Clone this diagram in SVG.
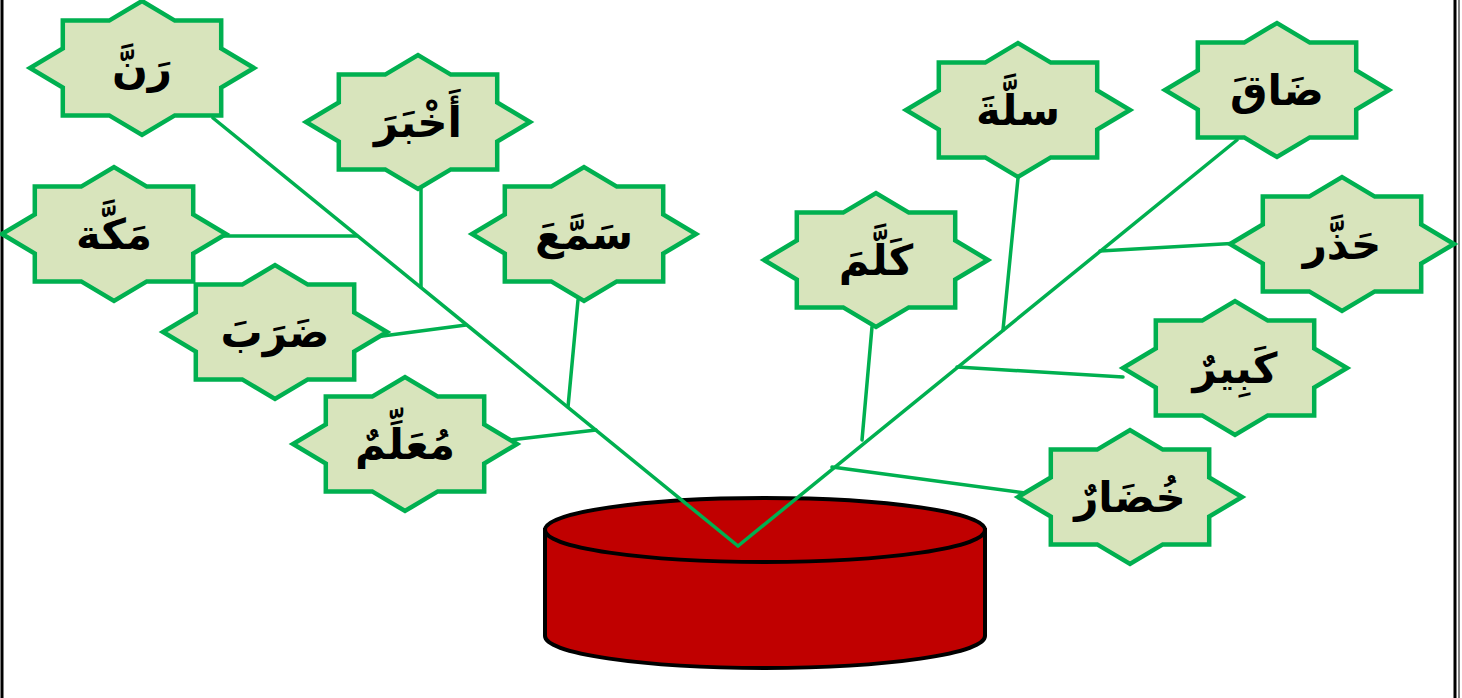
<svg xmlns="http://www.w3.org/2000/svg" width="1462" height="698" viewBox="0 0 1462 698">
<style>
.st{fill:#D8E4BC;stroke:#00B050;stroke-width:4.5;stroke-linejoin:miter}
.lb{font-family:"DejaVu Sans","Noto Sans",sans-serif;font-weight:bold;font-size:42px;fill:#000;text-anchor:middle;direction:rtl}
.cn line{stroke:#00B050;stroke-width:3.5;stroke-linecap:round}
.cyl{fill:#C00000;stroke:#000;stroke-width:4}
</style>
<defs>
<path id="star" d="M112,0 L79.2,19.6 L79.2,47.4 L32.8,47.4 L0,67 L-32.8,47.4 L-79.2,47.4 L-79.2,19.6 L-112,0 L-79.2,-19.6 L-79.2,-47.4 L-32.8,-47.4 L0,-67 L32.8,-47.4 L79.2,-47.4 L79.2,-19.6 Z"/>
</defs>
<rect width="1462" height="698" fill="#fff"/>
<g id="frame" stroke="#000" fill="none">
<line x1="2" y1="0" x2="2" y2="698" stroke-width="3"/>
<line x1="1455" y1="0" x2="1455" y2="698" stroke-width="3"/>
<line x1="1459" y1="0" x2="1459" y2="698" stroke-width="1"/>
</g>
<g id="cylinder">
<path class="cyl" d="M545,530 L545,636 A220,32 0 0 0 985,636 L985,530 Z"/>
<ellipse class="cyl" cx="765" cy="530" rx="220" ry="32"/>
</g>
<g id="connectors" class="cn">
<line x1="213" y1="118" x2="738" y2="546"/>
<line x1="738" y1="546" x2="1237" y2="140"/>
<line x1="222" y1="236" x2="357" y2="236"/>
<line x1="421" y1="188" x2="421" y2="287"/>
<line x1="375" y1="337" x2="466" y2="325"/>
<line x1="578" y1="300" x2="568" y2="407"/>
<line x1="510" y1="440" x2="596" y2="430"/>
<line x1="872" y1="327" x2="862" y2="440"/>
<line x1="1018" y1="178" x2="1003" y2="330"/>
<line x1="1240" y1="243" x2="1100" y2="251"/>
<line x1="1123" y1="377" x2="957" y2="367"/>
<line x1="1025" y1="493" x2="832" y2="467"/>
</g>
<g id="n1"><use href="#star" class="st" x="142" y="68"/><text class="lb" x="142" y="83">رَنَّ</text></g>
<g id="n2"><use href="#star" class="st" x="418" y="122"/><text class="lb" x="418" y="137">أَخْبَرَ</text></g>
<g id="n3"><use href="#star" class="st" x="114" y="234"/><text class="lb" x="114" y="249">مَكَّة</text></g>
<g id="n4"><use href="#star" class="st" x="275" y="332"/><text class="lb" x="275" y="347">ضَرَبَ</text></g>
<g id="n5"><use href="#star" class="st" x="405" y="444"/><text class="lb" x="405" y="459">مُعَلِّمٌ</text></g>
<g id="n6"><use href="#star" class="st" x="584" y="234"/><text class="lb" x="584" y="249">سَمَّعَ</text></g>
<g id="n7"><use href="#star" class="st" x="876" y="260"/><text class="lb" x="876" y="275">كَلَّمَ</text></g>
<g id="n8"><use href="#star" class="st" x="1018" y="110"/><text class="lb" x="1018" y="125">سلَّةَ</text></g>
<g id="n9"><use href="#star" class="st" x="1277" y="90"/><text class="lb" x="1277" y="105">ضَاقَ</text></g>
<g id="n10"><use href="#star" class="st" x="1342" y="244"/><text class="lb" x="1342" y="259">حَذَّر</text></g>
<g id="n11"><use href="#star" class="st" x="1235" y="368"/><text class="lb" x="1235" y="383">كَبِيرٌ</text></g>
<g id="n12"><use href="#star" class="st" x="1130" y="497"/><text class="lb" x="1130" y="512">خُضَارٌ</text></g>
</svg>
